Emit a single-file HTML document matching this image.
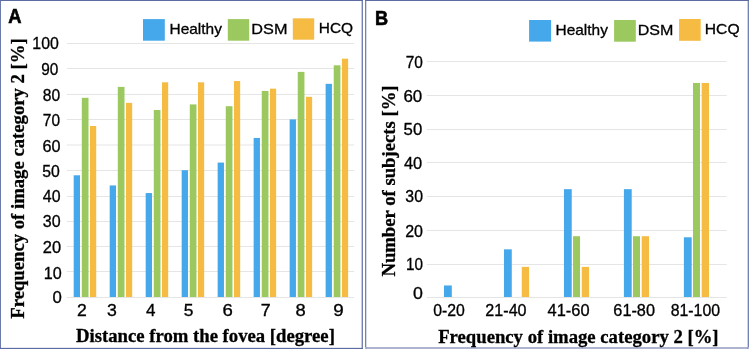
<!DOCTYPE html>
<html><head><meta charset="utf-8"><style>
html,body{margin:0;padding:0;background:#fff;}
body{width:749px;height:349px;overflow:hidden;position:relative;}
svg{position:absolute;left:0;top:0;will-change:transform;}
.tick{font-family:"Liberation Sans",sans-serif;font-size:15.6px;fill:#000;stroke:#000;stroke-width:0.3px;}
.leg{font-family:"Liberation Sans",sans-serif;font-size:15px;fill:#000;stroke:#000;stroke-width:0.3px;}
.pl{font-family:"Liberation Sans",sans-serif;font-weight:bold;font-size:19.5px;fill:#000;stroke:#000;stroke-width:0.6px;}
.ttl{font-family:"Liberation Serif",serif;font-weight:bold;font-size:18.7px;fill:#000;stroke:#000;stroke-width:0.3px;}
</style></head><body>
<svg width="749" height="349" viewBox="0 0 749 349">
<rect x="0" y="0" width="749" height="349" fill="#fff"/>
<rect x="0" y="0" width="363" height="1" fill="#5c6ca3"/>
<rect x="0" y="1" width="1" height="347" fill="#5c6ca3" opacity="0.9"/>
<rect x="0" y="348" width="363" height="1" fill="#5c6ca3"/>
<rect x="0" y="347" width="363" height="1" fill="#5c6ca3" opacity="0.15"/>
<rect x="362" y="1" width="1" height="348" fill="#5c6ca3" opacity="0.85"/>
<rect x="361" y="0" width="1" height="349" fill="#5c6ca3" opacity="0.35"/>
<rect x="365" y="0" width="384" height="1" fill="#5c6ca3"/>
<rect x="365" y="1" width="1" height="346" fill="#5c6ca3" opacity="0.85"/>
<rect x="366" y="0" width="1" height="349" fill="#5c6ca3" opacity="0.25"/>
<rect x="365" y="347" width="384" height="2" fill="#5c6ca3" opacity="0.5"/>
<rect x="748" y="1" width="1" height="346" fill="#5c6ca3" opacity="0.85"/>
<rect x="747" y="0" width="1" height="349" fill="#5c6ca3" opacity="0.3"/>
<line x1="66.80" y1="297.50" x2="354.20" y2="297.50" stroke="#e5e5e5" stroke-width="1.2"/>
<line x1="66.80" y1="271.50" x2="354.20" y2="271.50" stroke="#e5e5e5" stroke-width="1.2"/>
<line x1="66.80" y1="246.50" x2="354.20" y2="246.50" stroke="#e5e5e5" stroke-width="1.2"/>
<line x1="66.80" y1="221.50" x2="354.20" y2="221.50" stroke="#e5e5e5" stroke-width="1.2"/>
<line x1="66.80" y1="196.50" x2="354.20" y2="196.50" stroke="#e5e5e5" stroke-width="1.2"/>
<line x1="66.80" y1="170.50" x2="354.20" y2="170.50" stroke="#e5e5e5" stroke-width="1.2"/>
<line x1="66.80" y1="145.00" x2="354.20" y2="145.00" stroke="#e5e5e5" stroke-width="1.2"/>
<line x1="66.80" y1="119.50" x2="354.20" y2="119.50" stroke="#e5e5e5" stroke-width="1.2"/>
<line x1="66.80" y1="94.50" x2="354.20" y2="94.50" stroke="#e5e5e5" stroke-width="1.2"/>
<line x1="66.80" y1="68.50" x2="354.20" y2="68.50" stroke="#e5e5e5" stroke-width="1.2"/>
<line x1="66.80" y1="43.50" x2="354.20" y2="43.50" stroke="#e5e5e5" stroke-width="1.2"/>
<rect x="73.70" y="175.28" width="6.30" height="121.72" fill="#45a8ea"/>
<rect x="81.80" y="97.81" width="6.70" height="199.19" fill="#9bc95f"/>
<rect x="90.00" y="126.00" width="6.20" height="171.00" fill="#f5bb42"/>
<rect x="109.69" y="185.44" width="6.30" height="111.56" fill="#45a8ea"/>
<rect x="117.79" y="86.89" width="6.70" height="210.11" fill="#9bc95f"/>
<rect x="125.99" y="102.89" width="6.20" height="194.11" fill="#f5bb42"/>
<rect x="145.68" y="193.06" width="6.30" height="103.94" fill="#45a8ea"/>
<rect x="153.78" y="110.00" width="6.70" height="187.00" fill="#9bc95f"/>
<rect x="161.98" y="82.32" width="6.20" height="214.68" fill="#f5bb42"/>
<rect x="181.67" y="170.20" width="6.30" height="126.80" fill="#45a8ea"/>
<rect x="189.77" y="104.41" width="6.70" height="192.59" fill="#9bc95f"/>
<rect x="197.97" y="82.32" width="6.20" height="214.68" fill="#f5bb42"/>
<rect x="217.66" y="162.58" width="6.30" height="134.42" fill="#45a8ea"/>
<rect x="225.76" y="106.19" width="6.70" height="190.81" fill="#9bc95f"/>
<rect x="233.96" y="81.05" width="6.20" height="215.95" fill="#f5bb42"/>
<rect x="253.65" y="137.94" width="6.30" height="159.06" fill="#45a8ea"/>
<rect x="261.75" y="90.95" width="6.70" height="206.05" fill="#9bc95f"/>
<rect x="269.95" y="88.67" width="6.20" height="208.33" fill="#f5bb42"/>
<rect x="289.64" y="119.40" width="6.30" height="177.60" fill="#45a8ea"/>
<rect x="297.74" y="71.90" width="6.70" height="225.10" fill="#9bc95f"/>
<rect x="305.94" y="96.79" width="6.20" height="200.21" fill="#f5bb42"/>
<rect x="325.63" y="83.84" width="6.30" height="213.16" fill="#45a8ea"/>
<rect x="333.73" y="65.30" width="6.70" height="231.70" fill="#9bc95f"/>
<rect x="341.93" y="58.69" width="6.20" height="238.31" fill="#f5bb42"/>
<text x="32.38" y="49.15" class="tick" textLength="26.46" lengthAdjust="spacingAndGlyphs">100</text>
<text x="41.26" y="74.95" class="tick" textLength="17.13" lengthAdjust="spacingAndGlyphs">90</text>
<text x="42.70" y="100.85" class="tick" textLength="17.41" lengthAdjust="spacingAndGlyphs">80</text>
<text x="42.81" y="125.85" class="tick" textLength="17.19" lengthAdjust="spacingAndGlyphs">70</text>
<text x="42.57" y="151.85" class="tick" textLength="18.06" lengthAdjust="spacingAndGlyphs">60</text>
<text x="42.24" y="176.55" class="tick" textLength="17.57" lengthAdjust="spacingAndGlyphs">50</text>
<text x="42.84" y="202.15" class="tick" textLength="17.67" lengthAdjust="spacingAndGlyphs">40</text>
<text x="42.78" y="227.15" class="tick" textLength="17.84" lengthAdjust="spacingAndGlyphs">30</text>
<text x="42.86" y="252.55" class="tick" textLength="18.28" lengthAdjust="spacingAndGlyphs">20</text>
<text x="43.86" y="278.55" class="tick" textLength="17.97" lengthAdjust="spacingAndGlyphs">10</text>
<text x="52.56" y="302.85" class="tick" textLength="9.32" lengthAdjust="spacingAndGlyphs">0</text>
<text x="77.10" y="316.00" class="tick" textLength="9.78" lengthAdjust="spacingAndGlyphs">2</text>
<text x="106.92" y="316.00" class="tick" textLength="9.85" lengthAdjust="spacingAndGlyphs">3</text>
<text x="146.02" y="316.00" class="tick" textLength="9.50" lengthAdjust="spacingAndGlyphs">4</text>
<text x="183.67" y="316.00" class="tick" textLength="9.68" lengthAdjust="spacingAndGlyphs">5</text>
<text x="222.44" y="316.00" class="tick" textLength="10.36" lengthAdjust="spacingAndGlyphs">6</text>
<text x="260.69" y="316.00" class="tick" textLength="9.90" lengthAdjust="spacingAndGlyphs">7</text>
<text x="295.48" y="316.00" class="tick" textLength="10.22" lengthAdjust="spacingAndGlyphs">8</text>
<text x="333.19" y="316.00" class="tick" textLength="10.48" lengthAdjust="spacingAndGlyphs">9</text>
<line x1="426.80" y1="297.50" x2="726.70" y2="297.50" stroke="#e5e5e5" stroke-width="1.2"/>
<line x1="426.80" y1="264.50" x2="726.70" y2="264.50" stroke="#e5e5e5" stroke-width="1.2"/>
<line x1="426.80" y1="230.50" x2="726.70" y2="230.50" stroke="#e5e5e5" stroke-width="1.2"/>
<line x1="426.80" y1="196.50" x2="726.70" y2="196.50" stroke="#e5e5e5" stroke-width="1.2"/>
<line x1="426.80" y1="162.50" x2="726.70" y2="162.50" stroke="#e5e5e5" stroke-width="1.2"/>
<line x1="426.80" y1="129.50" x2="726.70" y2="129.50" stroke="#e5e5e5" stroke-width="1.2"/>
<line x1="426.80" y1="95.50" x2="726.70" y2="95.50" stroke="#e5e5e5" stroke-width="1.2"/>
<line x1="426.80" y1="61.50" x2="726.70" y2="61.50" stroke="#e5e5e5" stroke-width="1.2"/>
<rect x="444.00" y="285.47" width="7.80" height="11.53" fill="#45a8ea"/>
<rect x="503.97" y="249.33" width="7.80" height="47.67" fill="#45a8ea"/>
<rect x="521.77" y="266.86" width="7.30" height="30.14" fill="#f5bb42"/>
<rect x="563.94" y="189.16" width="7.80" height="107.84" fill="#45a8ea"/>
<rect x="573.04" y="236.22" width="7.00" height="60.78" fill="#9bc95f"/>
<rect x="581.74" y="266.86" width="7.30" height="30.14" fill="#f5bb42"/>
<rect x="623.91" y="189.16" width="7.80" height="107.84" fill="#45a8ea"/>
<rect x="633.01" y="236.22" width="7.00" height="60.78" fill="#9bc95f"/>
<rect x="641.71" y="236.22" width="7.30" height="60.78" fill="#f5bb42"/>
<rect x="683.88" y="237.29" width="7.80" height="59.71" fill="#45a8ea"/>
<rect x="692.98" y="82.97" width="7.00" height="214.03" fill="#9bc95f"/>
<rect x="701.68" y="82.97" width="7.30" height="214.03" fill="#f5bb42"/>
<text x="405.71" y="67.85" class="tick" textLength="17.19" lengthAdjust="spacingAndGlyphs">70</text>
<text x="403.43" y="101.55" class="tick" textLength="18.82" lengthAdjust="spacingAndGlyphs">60</text>
<text x="403.60" y="135.15" class="tick" textLength="18.64" lengthAdjust="spacingAndGlyphs">50</text>
<text x="403.93" y="168.85" class="tick" textLength="18.30" lengthAdjust="spacingAndGlyphs">40</text>
<text x="405.39" y="202.45" class="tick" textLength="17.62" lengthAdjust="spacingAndGlyphs">30</text>
<text x="405.18" y="237.15" class="tick" textLength="17.84" lengthAdjust="spacingAndGlyphs">20</text>
<text x="406.03" y="270.45" class="tick" textLength="16.96" lengthAdjust="spacingAndGlyphs">10</text>
<text x="413.12" y="298.85" class="tick" textLength="9.90" lengthAdjust="spacingAndGlyphs">0</text>
<text x="433.29" y="315.80" class="tick" textLength="31.64" lengthAdjust="spacingAndGlyphs">0-20</text>
<text x="485.37" y="315.80" class="tick" textLength="41.20" lengthAdjust="spacingAndGlyphs">21-40</text>
<text x="547.63" y="315.80" class="tick" textLength="41.95" lengthAdjust="spacingAndGlyphs">41-60</text>
<text x="613.37" y="315.80" class="tick" textLength="41.61" lengthAdjust="spacingAndGlyphs">61-80</text>
<text x="670.69" y="315.80" class="tick" textLength="49.35" lengthAdjust="spacingAndGlyphs">81-100</text>
<rect x="143.00" y="19.10" width="21.80" height="21.60" fill="#45a8ea"/>
<text x="169.51" y="34.10" class="leg" textLength="52.35" lengthAdjust="spacingAndGlyphs">Healthy</text>
<rect x="227.80" y="19.10" width="21.40" height="21.60" fill="#9bc95f"/>
<text x="251.35" y="33.80" class="leg" textLength="36.09" lengthAdjust="spacingAndGlyphs">DSM</text>
<rect x="292.80" y="18.30" width="21.40" height="21.40" fill="#f5bb42"/>
<text x="318.81" y="32.70" class="leg" textLength="34.34" lengthAdjust="spacingAndGlyphs">HCQ</text>
<rect x="529.10" y="20.00" width="22.00" height="21.60" fill="#45a8ea"/>
<text x="555.51" y="35.00" class="leg" textLength="52.35" lengthAdjust="spacingAndGlyphs">Healthy</text>
<rect x="614.10" y="20.00" width="21.70" height="21.70" fill="#9bc95f"/>
<text x="637.76" y="35.00" class="leg" textLength="35.66" lengthAdjust="spacingAndGlyphs">DSM</text>
<rect x="679.10" y="19.00" width="21.60" height="21.80" fill="#f5bb42"/>
<text x="704.80" y="33.60" class="leg" textLength="34.77" lengthAdjust="spacingAndGlyphs">HCQ</text>
<text x="8.13" y="23.30" class="pl" textLength="13.27" lengthAdjust="spacingAndGlyphs">A</text>
<text x="374.99" y="24.50" class="pl" textLength="13.14" lengthAdjust="spacingAndGlyphs">B</text>


<text x="76.1" y="341.8" class="ttl">Distance from the fovea [degree]</text>
<text x="438.2" y="343" class="ttl">Frequency of image category 2 [%]</text>
<text transform="translate(24.4,318.7) rotate(-90)" x="0" y="0" class="ttl">Frequency of image category 2 [%]</text>
<text transform="translate(394.8,276.6) rotate(-90)" x="0" y="0" class="ttl">Number of subjects [%]</text>
</svg>
</body></html>
